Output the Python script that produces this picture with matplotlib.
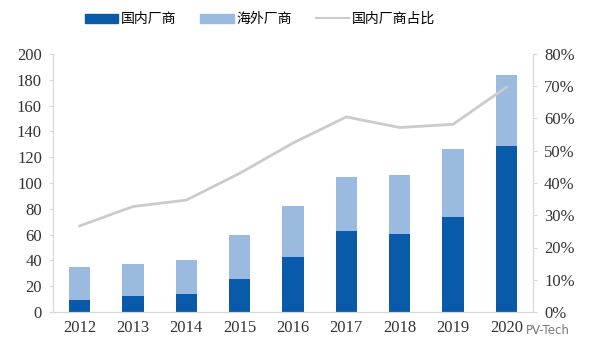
import numpy as np
import matplotlib.pyplot as plt
from matplotlib.patches import Patch
from matplotlib.lines import Line2D

years = ['2012', '2013', '2014', '2015', '2016', '2017', '2018', '2019', '2020']
domestic = [9, 12.5, 14, 25.5, 43, 63, 60.5, 73.5, 129]
overseas = [26, 25, 26.5, 34, 39.5, 41.5, 45.5, 52.5, 55]
domestic_share = [0.267, 0.327, 0.347, 0.43, 0.524, 0.605, 0.572, 0.582, 0.697]

dark_blue = '#0A5AAA'
light_blue = '#9ABBDF'
line_grey = '#CBCBCB'
serif = 'Liberation Serif'
cjk = ['Noto Sans CJK SC', 'DejaVu Sans']

fig = plt.figure(figsize=(5.96, 3.51), dpi=100)
ax = fig.add_axes([53 / 596, 1 - 312 / 351, 480 / 596, 258 / 351])
ax2 = ax.twinx()

x = np.arange(len(years))
ax.bar(x, domestic, width=0.4, color=dark_blue, zorder=2)
ax.bar(x, overseas, width=0.4, bottom=domestic, color=light_blue, zorder=2)
ax2.plot(x, domestic_share, color=line_grey, linewidth=2)

ax.set_xlim(-0.5, len(years) - 0.5)
ax.set_ylim(0, 200)
ax.set_yticks(range(0, 201, 20))
ax.set_xticks(x)
ax.set_xticklabels(years)
ax2.set_ylim(0, 0.8)
ax2.set_yticks(np.arange(0, 0.81, 0.1))
ax2.set_yticklabels([f'{int(round(v * 100))}%' for v in np.arange(0, 0.81, 0.1)])

for a in (ax, ax2):
    a.spines['top'].set_visible(False)
    for s in ('left', 'right', 'bottom'):
        a.spines[s].set_color('#D9D9D9')
    for lab in a.get_xticklabels() + a.get_yticklabels():
        lab.set_family(serif)
        lab.set_fontsize(12)
        lab.set_color('#333333')
ax.spines['bottom'].set_color('#BFBFBF')
ax.tick_params(axis='y', length=3, color='#D9D9D9', pad=5)
ax.tick_params(axis='x', length=0, pad=6)
ax2.tick_params(axis='y', length=3, color='#D9D9D9', pad=5)

handles = [Patch(color=dark_blue), Patch(color=light_blue),
           Line2D([], [], color=line_grey, linewidth=1.5)]
labels = ['国内厂商', '海外厂商', '国内厂商占比']
fig.legend(handles, labels, loc='center', bbox_to_anchor=(260 / 596, 1 - 19 / 351),
           ncol=3, frameon=False, prop={'family': cjk, 'size': 10},
           handlelength=2.4, handleheight=0.6, columnspacing=1.7, handletextpad=0.2)

fig.text(548 / 596, 1 - 330 / 351, 'PV-Tech', fontsize=8.5, color='#777777',
         ha='center', va='center', family='DejaVu Sans')

fig.savefig('out.png', dpi=100)
